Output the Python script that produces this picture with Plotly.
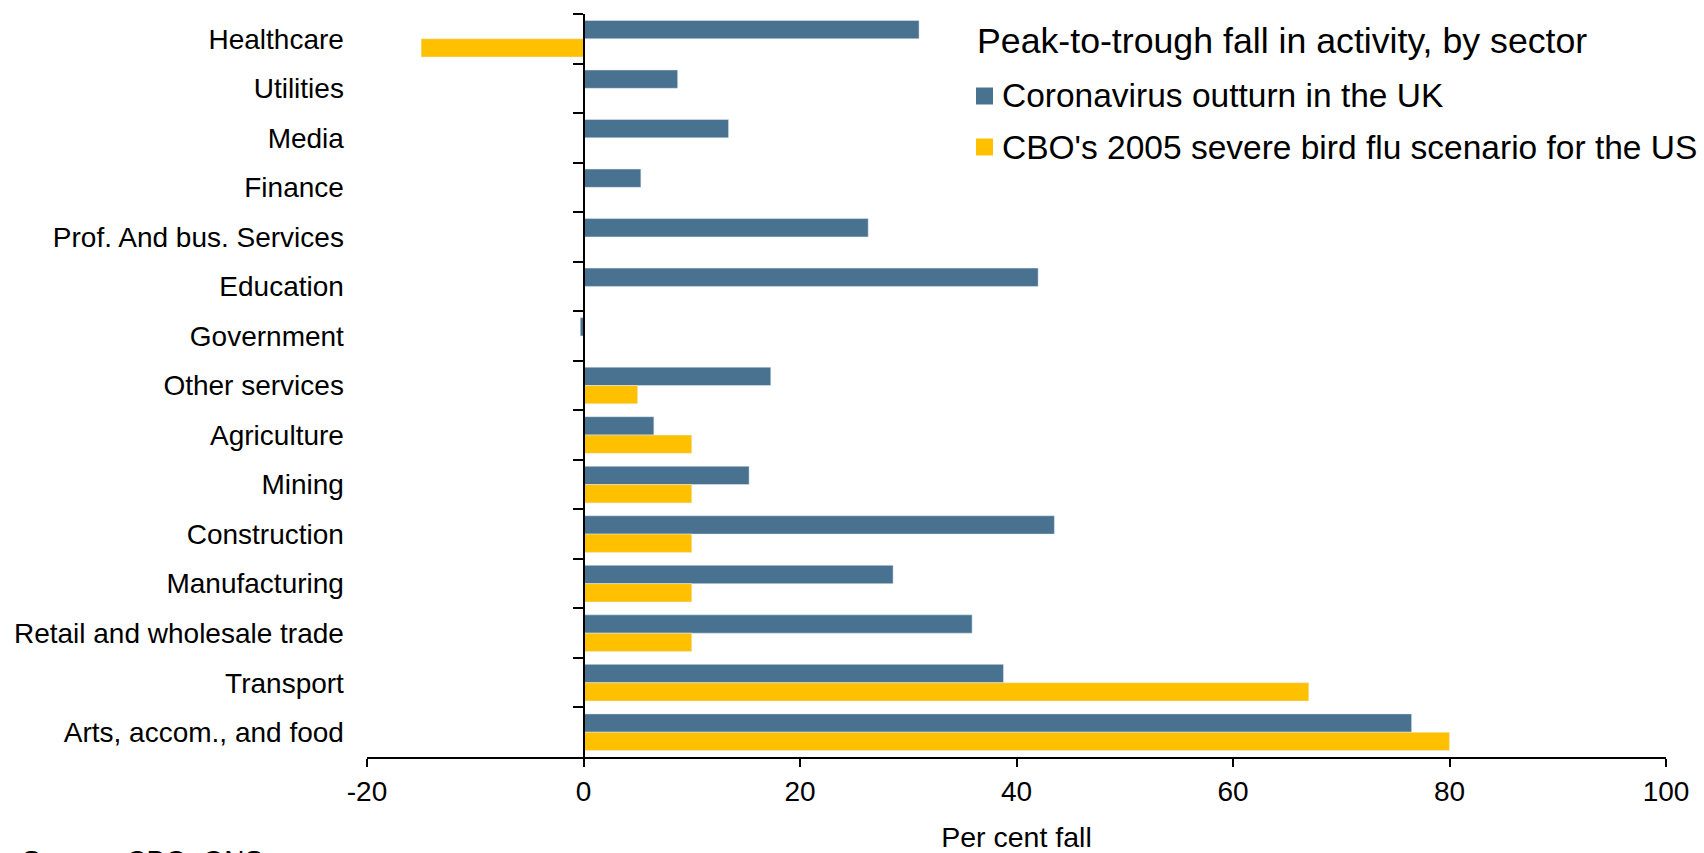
import plotly.graph_objects as go

# ---------------- data ----------------
sectors = ["Healthcare", "Utilities", "Media", "Finance", "Prof. And bus. Services",
           "Education", "Government", "Other services", "Agriculture", "Mining",
           "Construction", "Manufacturing", "Retail and wholesale trade", "Transport",
           "Arts, accom., and food"]
uk_outturn = [31.0, 8.7, 13.4, 5.3, 26.3, 42.0, -0.3, 17.3, 6.5, 15.3, 43.5, 28.6, 35.9, 38.8, 76.5]
cbo_scenario = [-15.0, None, None, None, None, None, None, 5.0, 10.0, 10.0, 10.0, 10.0, 10.0, 67.0, 80.0]
x_ticks = [-20, 0, 20, 40, 60, 80, 100]
series_names = ["Coronavirus outturn in the UK", "CBO's 2005 severe bird flu scenario for the US"]
legend_title = "Peak-to-trough fall in activity, by sector"

BLUE = "#48728f"
YELLOW = "#ffc000"
FONT = "Liberation Sans, Arial, sans-serif"

W, H = 1704, 853
L, R, T, B = 367, 38, 14, 96
PW, PH = W - L - R, H - T - B

def px(X):
    return (X - L) / PW

def py(Y):
    return (H - B - Y) / PH

fig = go.Figure()
fig.add_trace(go.Bar(y=sectors, x=uk_outturn, orientation="h", name=series_names[0],
                     marker=dict(color=BLUE), showlegend=False))
fig.add_trace(go.Bar(y=sectors, x=cbo_scenario, orientation="h", name=series_names[1],
                     marker=dict(color=YELLOW), showlegend=False))

# manual legend
fig.add_annotation(text=legend_title, xref="paper", yref="paper", x=px(975), y=py(41),
                   xanchor="left", yanchor="middle", showarrow=False,
                   font=dict(size=35.7, color="black", family=FONT))
for i, (nm, col) in enumerate(zip(series_names, [BLUE, YELLOW])):
    yc = [96, 147][i]
    fig.add_shape(type="rect", xref="paper", yref="paper",
                  x0=px(976), x1=px(993), y0=py(yc + 8.5), y1=py(yc - 8.5),
                  fillcolor=col, line=dict(width=0))
    fig.add_annotation(text=nm, xref="paper", yref="paper", x=px(1000), y=py(yc),
                       xanchor="left", yanchor="middle", showarrow=False,
                       font=dict(size=33.5, color="black", family=FONT))

fig.add_annotation(text="Source: CBO, ONS", xref="paper", yref="paper", x=px(20), y=py(843),
                   xanchor="left", yanchor="top", showarrow=False,
                   font=dict(size=28, color="black", family=FONT))

fig.update_layout(
    width=W, height=H,
    margin=dict(l=L, r=R, t=T, b=B, autoexpand=False),
    paper_bgcolor="white", plot_bgcolor="white",
    barmode="group", bargap=0.26, bargroupgap=0,
    font=dict(family=FONT, size=28, color="black"),
    xaxis=dict(range=[-20, 100], tickvals=x_ticks, ticktext=[str(v) for v in x_ticks],
               showgrid=False, zeroline=False, showline=True, linecolor="black", linewidth=2,
               ticks="outside", ticklen=8, tickwidth=2, tickcolor="black",
               tickfont=dict(size=28), ticklabelstandoff=0,
               title=dict(text="Per cent fall", font=dict(size=28.5), standoff=24),
               automargin=False, fixedrange=True),
    yaxis=dict(type="category", categoryorder="array", categoryarray=sectors,
               autorange="reversed", anchor="free", position=1/6,
               showgrid=False, zeroline=False, showline=True, linecolor="black", linewidth=2,
               ticks="outside", ticklen=10, tickwidth=2, tickcolor="black", tickson="boundaries",
               tickfont=dict(size=28), ticklabelstandoff=233,
               automargin=False, fixedrange=True),
)

fig.write_html("out.html", config={"displayModeBar": False},
               post_script="document.body.style.margin='0';document.body.style.overflow='hidden';")
